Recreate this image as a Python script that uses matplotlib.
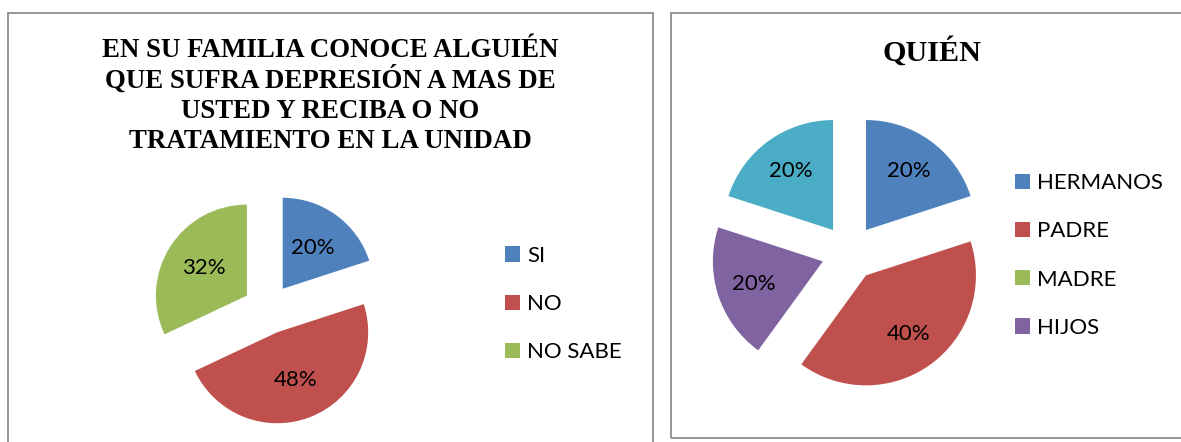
import matplotlib
matplotlib.use("Agg")
import matplotlib.pyplot as plt
from matplotlib.patches import Rectangle, Patch

# ---- data ----
left_title_lines = ["EN SU FAMILIA CONOCE ALGUIÉN",
                    "QUE SUFRA DEPRESIÓN A MAS DE",
                    "USTED Y RECIBA O NO",
                    "TRATAMIENTO EN LA UNIDAD"]
left_categories = ["SI", "NO", "NO SABE"]
left_values = [20, 48, 32]

right_title = "QUIÉN"
right_categories = ["HERMANOS", "PADRE", "MADRE", "HIJOS", "OTROS"]
right_values = [20, 40, 0, 20, 20]
right_legend_count = 4

colors = ["#4F81BD", "#C0504D", "#9BBB59", "#8064A2", "#4BACC6"]

W, H = 1181, 442
fig = plt.figure(figsize=(W / 100, H / 100), dpi=100)
ax = fig.add_axes([0, 0, 1, 1])

LABEL_FONT = "Lato"
LSIZE = 16


def Y(y):
    return H - y


def pct_fmt(p):
    return f"{p:.0f}%" if p > 0.5 else ""


# ---- left pie ----
ax.pie(left_values, colors=colors[:3], startangle=90, counterclock=False,
       center=(268, Y(309)), radius=91, explode=[25] * 3,
       autopct=pct_fmt, pctdistance=0.56,
       wedgeprops=dict(linewidth=0),
       textprops=dict(fontsize=LSIZE, family=LABEL_FONT, color="black"))

# ---- right pie ----
ax.pie(right_values, colors=colors, startangle=90, counterclock=False,
       center=(849.5, Y(252.7)), radius=110, explode=[28] * 5,
       autopct=pct_fmt, pctdistance=0.66,
       wedgeprops=dict(linewidth=0),
       textprops=dict(fontsize=LSIZE, family=LABEL_FONT, color="black"))

ax.set_xlim(0, W)
ax.set_ylim(0, H)
ax.set_aspect("auto")
ax.axis("off")

# ---- panel borders ----
border_col = "#8C8C8C"
ax.add_patch(Rectangle((8, Y(470)), 645, 470 - 13, fill=False,
                       edgecolor=border_col, linewidth=1.3, clip_on=True))
ax.add_patch(Rectangle((671, Y(438)), 600, 438 - 13, fill=False,
                       edgecolor=border_col, linewidth=1.3, clip_on=True))

# ---- titles ----
baselines = [57, 88, 118, 148]
for line, b in zip(left_title_lines, baselines):
    ax.text(330, Y(b), line, ha="center", va="baseline",
            family="Liberation Serif", fontweight="bold", fontsize=19.4)
ax.text(932, Y(61), right_title, ha="center", va="baseline",
        family="Liberation Serif", fontweight="bold", fontsize=21.7)

# ---- legends ----
lh = [Patch(facecolor=c, edgecolor="none") for c in colors[:3]]
leg1 = ax.legend(lh, left_categories, loc="center left",
                 bbox_to_anchor=(505, Y(304)), bbox_transform=ax.transData,
                 frameon=False, borderpad=0, borderaxespad=0,
                 handlelength=0.68, handleheight=0.68, handletextpad=0.32,
                 labelspacing=1.27, prop=dict(family=LABEL_FONT, size=LSIZE))
ax.add_artist(leg1)

rh = [Patch(facecolor=c, edgecolor="none") for c in colors[:right_legend_count]]
ax.legend(rh, right_categories[:right_legend_count], loc="center left",
          bbox_to_anchor=(1015, Y(255.5)), bbox_transform=ax.transData,
          frameon=False, borderpad=0, borderaxespad=0,
          handlelength=0.68, handleheight=0.68, handletextpad=0.32,
          labelspacing=1.27, prop=dict(family=LABEL_FONT, size=LSIZE))

fig.savefig("out.png", dpi=100)
